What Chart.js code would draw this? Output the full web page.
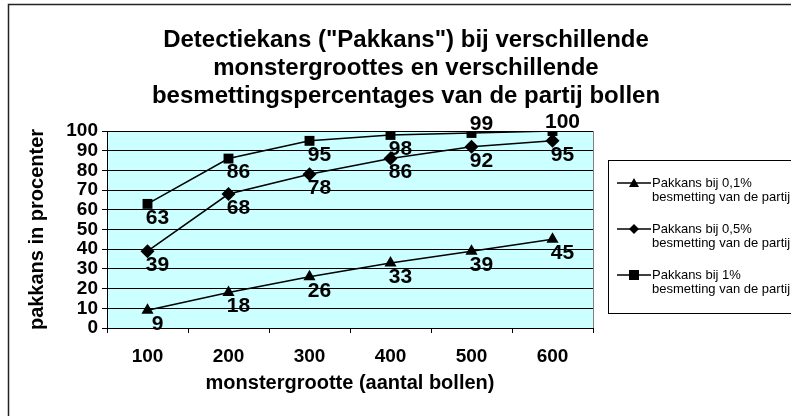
<!DOCTYPE html>
<html>
<head>
<meta charset="utf-8">
<script src="https://cdn.jsdelivr.net/npm/chart.js@4/dist/chart.umd.min.js"></script>
<style>
  html, body { margin: 0; padding: 0; background: #fff; }
  canvas { display: block; }
</style>
</head>
<body>
<canvas id="myChart" width="791" height="416"></canvas>
<script>
"use strict";
// data
const sampleSizes = ["100", "200", "300", "400", "500", "600"];
const chance01 = [9, 18, 26, 33, 39, 45];
const chance05 = [39, 68, 78, 86, 92, 95];
const chance1 = [63, 86, 95, 98, 99, 100];
const seriesNames = [
  ["Pakkans bij 0,1%", "besmetting van de partij"],
  ["Pakkans bij 0,5%", "besmetting van de partij"],
  ["Pakkans bij 1%", "besmetting van de partij"],
];
const titleLines = [
  'Detectiekans ("Pakkans") bij verschillende',
  "monstergroottes en verschillende",
  "besmettingspercentages van de partij bollen",
];

const FONT = "'Liberation Sans', Arial, sans-serif";

// frame, plot background, title
const backdrop = {
  id: "backdrop",
  beforeDraw(chart) {
    const { ctx, chartArea: a } = chart;
    ctx.save();
    ctx.fillStyle = "#ccffff";
    ctx.fillRect(a.left, a.top, a.right - a.left, a.bottom - a.top);
    ctx.strokeStyle = "#808080";
    ctx.lineWidth = 1;
    ctx.beginPath();
    ctx.moveTo(a.right + 0.5, a.top);
    ctx.lineTo(a.right + 0.5, a.bottom);
    ctx.stroke();
    ctx.strokeStyle = "#222";
    ctx.lineWidth = 1.5;
    ctx.strokeRect(8.5, 4.5, 820, 440);
    ctx.fillStyle = "#000";
    ctx.font = "bold 24px " + FONT;
    ctx.textAlign = "center";
    ctx.textBaseline = "alphabetic";
    titleLines.forEach((t, i) => ctx.fillText(t, 406, 47 + i * 28));
    ctx.restore();
  },
};

// value labels next to points
const valueLabels = {
  id: "valueLabels",
  afterDatasetsDraw(chart) {
    const { ctx } = chart;
    ctx.save();
    ctx.fillStyle = "#000";
    ctx.font = "bold 21px " + FONT;
    ctx.textAlign = "center";
    ctx.textBaseline = "middle";
    chart.data.datasets.forEach((ds, i) => {
      chart.getDatasetMeta(i).data.forEach((pt, j) => {
        const v = ds.data[j];
        const dy = v >= 99 ? -9 : 14;
        ctx.fillText(String(v), pt.x + 10, pt.y + dy);
      });
    });
    ctx.restore();
  },
};

// legend box at the right
const sideLegend = {
  id: "sideLegend",
  afterDraw(chart) {
    const { ctx } = chart;
    ctx.save();
    ctx.strokeStyle = "#000";
    ctx.lineWidth = 1;
    ctx.strokeRect(608.5, 160.5, 220, 153);
    ctx.font = "13px " + FONT;
    ctx.textBaseline = "middle";
    ctx.textAlign = "left";
    chart.data.datasets.forEach((ds, i) => {
      const y = 183 + i * 46;
      ctx.strokeStyle = "#000";
      ctx.lineWidth = 1.5;
      ctx.beginPath();
      ctx.moveTo(617, y);
      ctx.lineTo(651, y);
      ctx.stroke();
      ctx.fillStyle = "#000";
      drawMarker(ctx, ds.pointStyle, 634, y, 5);
      ctx.fillText(seriesNames[i][0], 652, y);
      ctx.fillText(seriesNames[i][1], 652, y + 14);
    });
    ctx.restore();
  },
};

function drawMarker(ctx, style, x, y, r) {
  ctx.beginPath();
  if (style === "triangle") {
    ctx.moveTo(x, y - r);
    ctx.lineTo(x + r, y + r * 0.8);
    ctx.lineTo(x - r, y + r * 0.8);
  } else if (style === "rectRot") {
    ctx.moveTo(x, y - r);
    ctx.lineTo(x + r, y);
    ctx.lineTo(x, y + r);
    ctx.lineTo(x - r, y);
  } else {
    ctx.rect(x - r, y - r, 2 * r, 2 * r);
  }
  ctx.closePath();
  ctx.fill();
}

function makeSeries(values, style, radius) {
  return {
    data: values,
    borderColor: "#000",
    backgroundColor: "#000",
    borderWidth: 1.5,
    pointStyle: style,
    pointRadius: radius,
    pointBorderWidth: 0,
    pointBackgroundColor: "#000",
    tension: 0,
  };
}

const ctx = document.getElementById("myChart").getContext("2d");
const myChart = new Chart(ctx, {
  type: "line",
  data: {
    labels: sampleSizes,
    datasets: [
      makeSeries(chance01, "triangle", 7),
      makeSeries(chance05, "rectRot", 7),
      makeSeries(chance1, "rect", 7),
    ],
  },
  options: {
    responsive: false,
    animation: false,
    layout: { padding: { left: 8, top: 131, right: 198, bottom: 0 } },
    plugins: {
      legend: { display: false },
      title: { display: false },
      tooltip: { enabled: false },
    },
    scales: {
      x: {
        offset: true,
        grid: {
          offset: true,
          drawOnChartArea: false,
          tickLength: 5,
          color: "#000",
        },
        border: { color: "#000" },
        ticks: {
          color: "#000",
          font: { family: FONT, size: 19, weight: "bold" },
          padding: 12,
          maxRotation: 0,
        },
        title: {
          display: true,
          text: "monstergrootte (aantal bollen)",
          color: "#000",
          font: { family: FONT, size: 20, weight: "bold" },
          padding: { top: 0, bottom: 21 },
        },
        afterFit(scale) {
          scale.height = 88;
        },
      },
      y: {
        min: 0,
        max: 100,
        grid: { color: "#000", tickLength: 5 },
        border: { color: "#000" },
        ticks: {
          stepSize: 10,
          autoSkip: false,
          color: "#000",
          font: { family: FONT, size: 19, weight: "bold" },
          padding: 4,
        },
        title: {
          display: true,
          text: "pakkans in procenter",
          color: "#000",
          font: { family: FONT, size: 20, weight: "bold" },
          padding: { top: 17, bottom: 0 },
        },
        afterFit(scale) {
          scale.width = 99;
        },
      },
    },
  },
  plugins: [backdrop, valueLabels, sideLegend],
});
</script>
</body>
</html>
